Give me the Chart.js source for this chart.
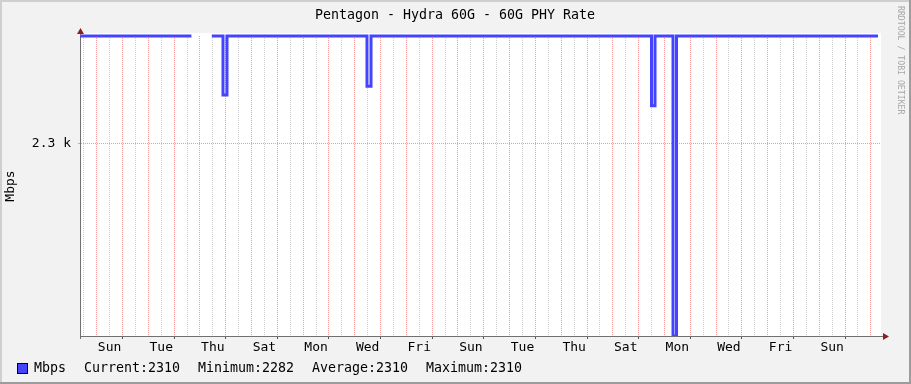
<!DOCTYPE html>
<html><head><meta charset="utf-8">
<script src="https://cdn.jsdelivr.net/npm/chart.js@4/dist/chart.umd.min.js"></script>
<style>html,body{margin:0;padding:0;background:#F2F2F2;}#wrap{width:911px;height:384px;position:relative;}canvas{display:block;}</style>
</head><body><div id="wrap"><canvas id="c" width="911" height="384"></canvas></div>
<script>
const chartTitle = 'Pentagon - Hydra 60G - 60G PHY Rate';
const seriesName = 'Mbps';
const yAxisTitle = 'Mbps';
const watermark = 'RRDTOOL / TOBI OETIKER';
const dayNames = ['Sun','Mon','Tue','Wed','Thu','Fri','Sat'];
// time in days relative to the first Sunday 00:00 shown on the chart
const timeDays = [-0.647, 3.67, 3.75, 4.46, 4.894, 5.049, 10.474, 10.630, 21.499, 21.635, 22.332, 22.468, 30.276];
const mbps     = [2310,   2310, null, 2310, 2304.5, 2310,  2305.3, 2310,   2303.5, 2310,   2282,   2310,   2310];
const xRange = [-0.647, 30.353];
const yRange = [2282, 2310];
const yTickValues = [2300];
const yTickLabels = ['2.3 k'];
const statNames  = ['Current', 'Minimum', 'Average', 'Maximum'];
const statValues = [2310, 2282, 2310, 2310];

const FONT = 'DejaVu Sans Mono';
const LINE = '#4444FF';
const RED_GRID = '#F29898';
const GREY_GRID = '#CFCFCF';
const AXIS = '#707070';
const ARROW = '#8E1E1E';

const isMidnight = v => Math.abs(v - Math.round(v)) < 1e-9;

const decor = {
  id: 'decor',
  beforeDraw(chart) {
    const {ctx, chartArea: a} = chart;
    ctx.save();
    ctx.fillStyle = '#F2F2F2';
    ctx.fillRect(0, 0, chart.width, chart.height);
    ctx.fillStyle = '#FFFFFF';
    ctx.fillRect(a.left, a.top - 3, a.right - a.left + 1, a.bottom - a.top + 3);
    ctx.restore();
  },
  afterDraw(chart) {
    const {ctx, chartArea: a} = chart;
    ctx.save();
    // axis extensions
    ctx.strokeStyle = AXIS; ctx.lineWidth = 1;
    ctx.beginPath();
    ctx.moveTo(a.right, a.bottom + 0.5); ctx.lineTo(a.right + 5, a.bottom + 0.5);
    ctx.moveTo(a.left + 0.5, a.top); ctx.lineTo(a.left + 0.5, a.top - 5);
    ctx.moveTo(a.left + 0.5, a.bottom); ctx.lineTo(a.left + 0.5, a.bottom + 3);
    ctx.stroke();
    // arrows
    ctx.fillStyle = ARROW;
    ctx.beginPath();
    ctx.moveTo(a.left + 0.5, a.top - 8); ctx.lineTo(a.left - 3, a.top - 2); ctx.lineTo(a.left + 4, a.top - 2); ctx.closePath();
    ctx.fill();
    ctx.beginPath();
    ctx.moveTo(a.right + 9, a.bottom + 0.5); ctx.lineTo(a.right + 3, a.bottom - 3); ctx.lineTo(a.right + 3, a.bottom + 4); ctx.closePath();
    ctx.fill();
    // title
    ctx.fillStyle = '#000';
    ctx.font = '13.3px "' + FONT + '"';
    ctx.textAlign = 'center'; ctx.textBaseline = 'alphabetic';
    ctx.fillText(chartTitle, 455, 19);
    // legend
    ctx.textAlign = 'left';
    ctx.fillStyle = LINE;
    ctx.fillRect(17, 363, 10, 10);
    ctx.strokeStyle = '#000'; ctx.lineWidth = 1;
    ctx.strokeRect(17.5, 363.5, 10, 10);
    ctx.fillStyle = '#000';
    ctx.fillText(seriesName, 34, 372);
    const statX = [84, 198, 312, 426];
    statNames.forEach((n, i) => ctx.fillText(n + ':' + statValues[i], statX[i], 372));
    // watermark
    ctx.save();
    ctx.translate(900, 6);
    ctx.rotate(Math.PI / 2);
    ctx.fillStyle = '#A8A8A8';
    ctx.font = '8.2px "' + FONT + '"';
    ctx.textBaseline = 'middle';
    ctx.fillText(watermark, 0, 0);
    ctx.restore();
    // frame
    ctx.fillStyle = '#CFCFCF';
    ctx.fillRect(0, 0, chart.width, 2);
    ctx.fillRect(0, 0, 2, chart.height);
    ctx.fillStyle = '#9C9C9C';
    ctx.fillRect(0, chart.height - 2, chart.width, 2);
    ctx.fillRect(chart.width - 2, 0, 2, chart.height);
    ctx.restore();
  }
};

new Chart(document.getElementById('c'), {
  type: 'line',
  data: {
    datasets: [{
      label: seriesName,
      data: timeDays.map((t, i) => ({x: t, y: mbps[i]})),
      borderColor: LINE,
      backgroundColor: LINE,
      borderWidth: 3,
      stepped: true,
      pointRadius: 0,
      spanGaps: false,
      fill: false,
      borderJoinStyle: 'miter',
      borderCapStyle: 'butt',
      clip: {left: 2, top: 3, right: 2, bottom: 0}
    }]
  },
  options: {
    responsive: false,
    animation: false,
    devicePixelRatio: 1,
    layout: {padding: {left: 0, top: 36, right: 31, bottom: 0}},
    plugins: {legend: {display: false}, title: {display: false}, tooltip: {enabled: false}},
    scales: {
      x: {
        type: 'linear',
        min: xRange[0], max: xRange[1],
        afterBuildTicks(scale) {
          const t = [];
          for (let v = Math.ceil(xRange[0] * 2) / 2; v <= xRange[1]; v += 0.5) t.push({value: v});
          scale.ticks = t;
        },
        afterFit(scale) { scale.height = 48; },
        grid: {
          color: c => (c.tick && isMidnight(c.tick.value)) ? RED_GRID : GREY_GRID,
          lineWidth: 1,
          drawTicks: true,
          tickLength: 3,
          tickWidth: 1,
          tickColor: c => (c.tick && isMidnight(c.tick.value) && Math.abs(Math.round(c.tick.value)) % 2 === 1) ? '#555' : 'rgba(0,0,0,0)'
        },
        border: {display: true, color: AXIS, width: 1, dash: [1, 1]},
        ticks: {
          autoSkip: false, maxRotation: 0, minRotation: 0, padding: 1,
          color: '#000', font: {family: FONT, size: 13},
          callback: v => {
            const d = v - 0.5;
            if (Math.abs(d - Math.round(d)) > 1e-9) return '';
            const k = Math.round(d);
            if (k < 0 || k % 2 !== 0) return '';
            return dayNames[k % 7];
          }
        }
      },
      y: {
        type: 'linear',
        min: yRange[0], max: yRange[1],
        afterBuildTicks(scale) { scale.ticks = yTickValues.map(v => ({value: v})); },
        afterFit(scale) { scale.width = 80; },
        grid: {color: RED_GRID, lineWidth: 1, drawTicks: true, tickLength: 2, tickColor: RED_GRID},
        border: {display: true, color: AXIS, width: 1, dash: [1, 1]},
        ticks: {
          padding: 7, color: '#000', font: {family: FONT, size: 13},
          callback: v => { const i = yTickValues.indexOf(v); return i >= 0 ? yTickLabels[i] : ''; }
        },
        title: {display: true, text: yAxisTitle, color: '#000', font: {family: FONT, size: 13}, padding: {top: 3, bottom: 0}}
      }
    }
  },
  plugins: [decor]
});
</script>
</body></html>
